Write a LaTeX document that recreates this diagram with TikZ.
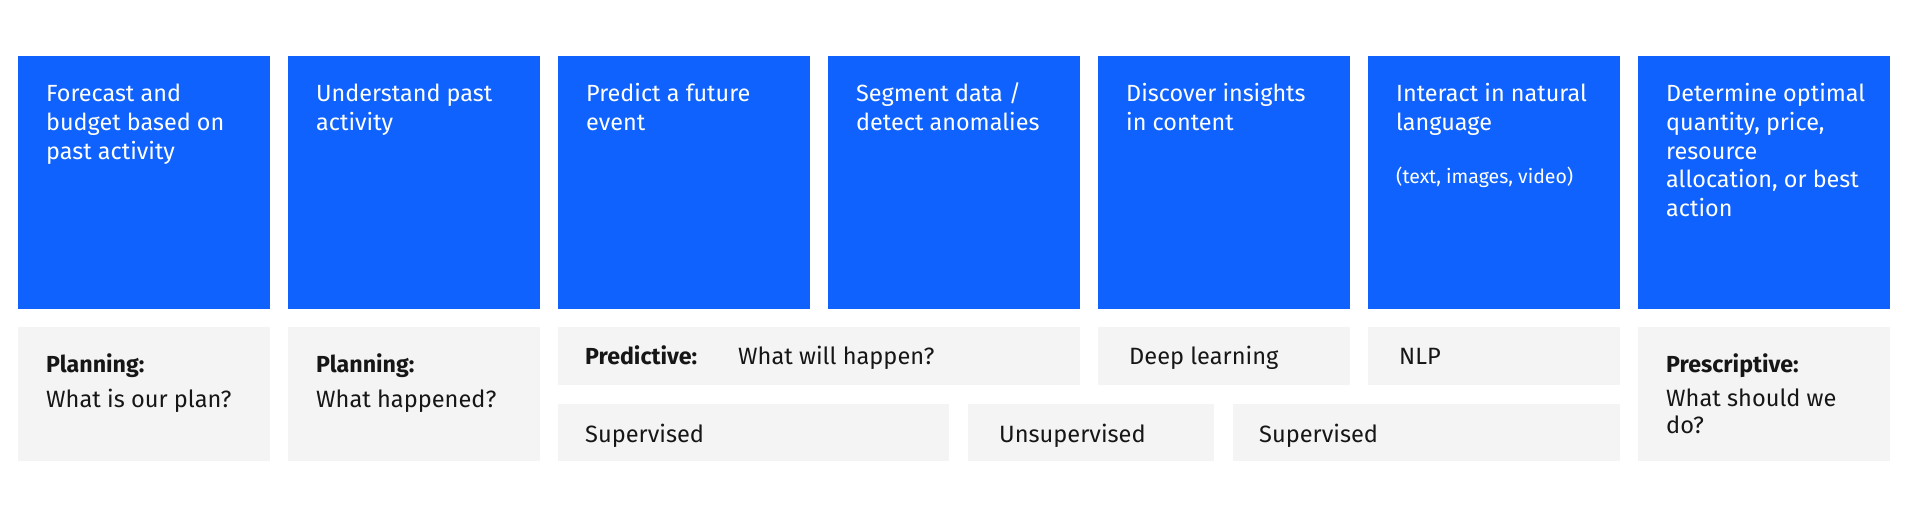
\documentclass[tikz,border=0pt]{standalone}
\usepackage{fontspec}
\setmainfont{Fira Sans}
\definecolor{ibmblue}{HTML}{0F62FE}
\definecolor{ibmgray}{HTML}{F4F4F4}
\definecolor{ink}{HTML}{161616}
\newcommand\mlines[2]{\vtop{\baselineskip=#1\lineskiplimit=-100pt\lineskip=0pt #2}}
\begin{document}
\begin{tikzpicture}[x=1pt,y=-1pt,
  bluebox/.style={fill=ibmblue, draw=none, inner sep=0pt, anchor=north west, minimum width=252pt, minimum height=253pt},
  graybox/.style={fill=ibmgray, draw=none, inner sep=0pt, anchor=north west},
  ttl/.style={anchor=base west, inner sep=0pt, text=white, font=\fontsize{23.4}{28.6}\selectfont},
  sub/.style={anchor=base west, inner sep=0pt, text=white, font=\fontsize{19.5}{22}\selectfont},
  lbl/.style={anchor=base west, inner sep=0pt, text=ink, font=\fontsize{23.6}{28}\selectfont},
  hdr/.style={anchor=base west, inner sep=0pt, text=ink, font=\fontsize{23.2}{28}\selectfont\bfseries}]
\useasboundingbox[fill=white] (0,0) rectangle (1908,518);
% blue boxes
\node[bluebox] (b1) at (18,56) {};
\node[bluebox] (b2) at (288,56) {};
\node[bluebox] (b3) at (558,56) {};
\node[bluebox] (b4) at (828,56) {};
\node[bluebox] (b5) at (1098,56) {};
\node[bluebox] (b6) at (1368,56) {};
\node[bluebox] (b7) at (1638,56) {};
\node[ttl] (t1) at (46,102) {\mlines{28.6pt}{\hbox{Forecast and}\hbox{budget based on}\hbox{past activity}}};
\node[ttl] (t2) at (316,102) {\mlines{28.6pt}{\hbox{Understand past}\hbox{activity}}};
\node[ttl] (t3) at (586,102) {\mlines{28.6pt}{\hbox{Predict a future}\hbox{event}}};
\node[ttl] (t4) at (856,102) {\mlines{28.6pt}{\hbox{Segment data /}\hbox{detect anomalies}}};
\node[ttl] (t5) at (1126,102) {\mlines{28.6pt}{\hbox{Discover insights}\hbox{in content}}};
\node[ttl] (t6) at (1396,102) {\mlines{28.6pt}{\hbox{Interact in natural}\hbox{language}}};
\node[sub] (t6b) at (1396,184) {(text, images, video)};
\node[ttl] (t7) at (1666,102) {\mlines{28.6pt}{\hbox{Determine optimal}\hbox{quantity, price,}\hbox{resource}\hbox{allocation, or best}\hbox{action}}};
% gray boxes
\node[graybox, minimum width=252pt, minimum height=134pt] (g1) at (18,327) {};
\node[graybox, minimum width=252pt, minimum height=134pt] (g2) at (288,327) {};
\node[graybox, minimum width=522pt, minimum height=58pt] (g3) at (558,327) {};
\node[graybox, minimum width=252pt, minimum height=58pt] (g4) at (1098,327) {};
\node[graybox, minimum width=252pt, minimum height=58pt] (g5) at (1368,327) {};
\node[graybox, minimum width=252pt, minimum height=134pt] (g6) at (1638,327) {};
\node[graybox, minimum width=391pt, minimum height=57pt] (g7) at (558,404) {};
\node[graybox, minimum width=246pt, minimum height=57pt] (g8) at (968,404) {};
\node[graybox, minimum width=387pt, minimum height=57pt] (g9) at (1233,404) {};
\node[hdr] (h1) at (46,372) {Planning:};
\node[lbl] (q1) at (46,407) {What is our plan?};
\node[hdr] (h2) at (316,372) {Planning:};
\node[lbl] (q2) at (316,407) {What happened?};
\node[hdr] (h3) at (585,365) {Predictive:};
\node[lbl] (q3) at (738,365) {What will happen?};
\node[lbl] (l4) at (1129,365) {Deep learning};
\node[lbl] (l5) at (1399,365) {NLP};
\node[hdr] (h6) at (1666,372) {Prescriptive:};
\node[lbl] (q6) at (1666,406) {\mlines{28pt}{\hbox{What should we}\hbox{do?}}};
\node[lbl] (l7) at (585,442) {Supervised};
\node[lbl] (l8) at (999,442) {Unsupervised};
\node[lbl] (l9) at (1259,442) {Supervised};
\end{tikzpicture}
\end{document}
